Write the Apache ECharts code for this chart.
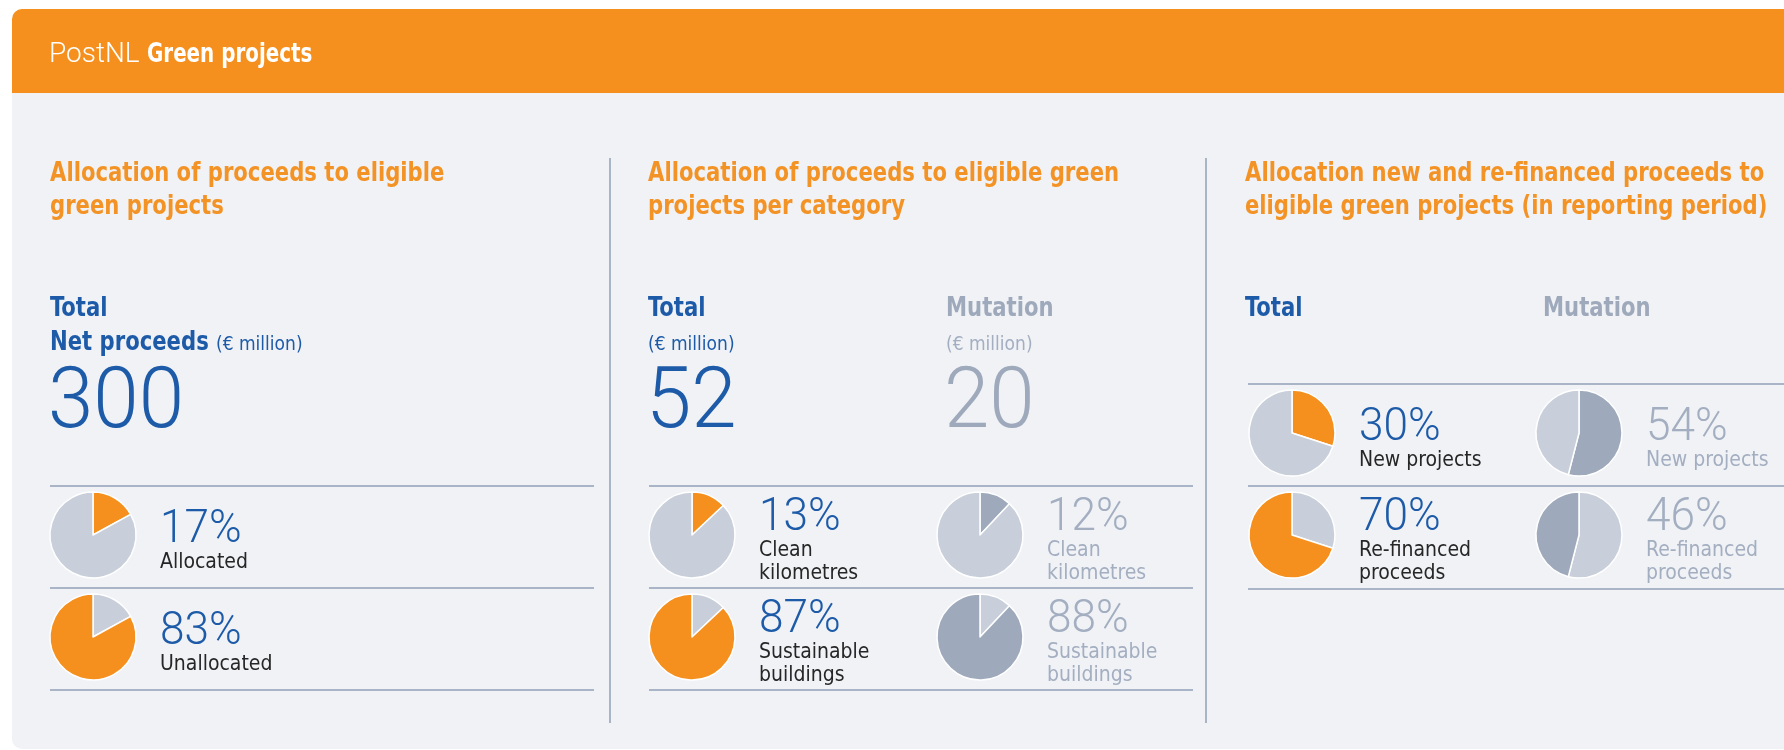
<!DOCTYPE html>
<html>
<head>
<meta charset="utf-8">
<script src="https://cdn.jsdelivr.net/npm/echarts@6/dist/echarts.min.js"></script>
<style>
  html, body { margin: 0; padding: 0; background: #fff; }
  #chart { width: 1784px; height: 750px; }
</style>
</head>
<body>
<div id="chart"></div>
<script>
// values
const netProceeds = 300;
const allocationLabels = ['Allocated', 'Unallocated'];
const allocationShares = [17, 83];

const categoryTotalAmount = 52;
const categoryMutationAmount = 20;
const categoryLabels = ['Clean\nkilometres', 'Sustainable\nbuildings'];
const categoryTotalShares = [13, 87];
const categoryMutationShares = [12, 88];

const financeLabels = ['New projects', 'Re-financed\nproceeds'];
const financeTotalShares = [30, 70];
const financeMutationShares = [54, 46];

const ORANGE = '#f5901e';
const TITLE_ORANGE = '#f39325';
const BLUE = '#1d5ba8';
const DARK = '#262626';
const MUT = '#9ea9bb';
const MUT_TEXT = '#a3aec0';
const LIGHT = '#c8cfda';
const RULE = '#a9b4c7';
const PANEL = '#f0f2f6';

const NARROW = '"Liberation Sans Narrow", "DejaVu Sans Condensed", sans-serif';
const THIN = 'Roboto, "Open Sans", sans-serif';
const SQUEEZE = 0.905; // the report uses a condensed bold face

const chart = echarts.init(document.getElementById('chart'));

const elements = [];
const series = [];

// text placed by its baseline
function txt(x, base, s, size, color, family, weight, sx) {
  elements.push({
    type: 'text', x: x, y: base - size * 0.32 + 2, scaleX: sx || 1, silent: true,
    style: { text: s, fill: color, font: (weight || 'normal') + ' ' + size + 'px ' + family, verticalAlign: 'middle', align: 'left' }
  });
}
function bold(x, base, s, color) { txt(x, base, s, 26, color, NARROW, 'bold', SQUEEZE); }
function rule(x1, y1, x2, y2) {
  elements.push({ type: 'line', silent: true, shape: { x1: x1, y1: y1, x2: x2, y2: y2 }, style: { stroke: RULE, lineWidth: 2 } });
}

// background
elements.push({ type: 'rect', silent: true, shape: { x: 12, y: 93, width: 1772, height: 656, r: [0, 0, 0, 10] }, style: { fill: PANEL } });
elements.push({ type: 'rect', silent: true, shape: { x: 12, y: 9, width: 1772, height: 84, r: [10, 0, 0, 0] }, style: { fill: ORANGE } });
txt(49, 62, 'PostNL', 28, '#fff', THIN, 300);
txt(147, 62, 'Green projects', 26, '#fff', NARROW, 'bold', 0.85);

// column dividers
rule(610, 158, 610, 723);
rule(1206, 158, 1206, 723);

// column titles
bold(50, 181, 'Allocation of proceeds to eligible', TITLE_ORANGE);
bold(50, 214, 'green projects', TITLE_ORANGE);
bold(648, 181, 'Allocation of proceeds to eligible green', TITLE_ORANGE);
bold(648, 214, 'projects per category', TITLE_ORANGE);
bold(1245, 181, 'Allocation new and re-financed proceeds to', TITLE_ORANGE);
bold(1245, 214, 'eligible green projects (in reporting period)', TITLE_ORANGE);

// headline figures
bold(50, 316, 'Total', BLUE);
bold(50, 350, 'Net proceeds', BLUE);
txt(216, 349, '(€ million)', 19, BLUE, NARROW);
txt(48, 431, String(netProceeds), 86, BLUE, THIN, 300, 0.95);

bold(648, 316, 'Total', BLUE);
txt(648, 349, '(€ million)', 19, BLUE, NARROW);
txt(646, 431, String(categoryTotalAmount), 86, BLUE, THIN, 300, 0.95);
bold(946, 316, 'Mutation', MUT);
txt(946, 349, '(€ million)', 19, MUT_TEXT, NARROW);
txt(944, 431, String(categoryMutationAmount), 86, MUT, THIN, 300, 0.95);

bold(1245, 316, 'Total', BLUE);
bold(1543, 316, 'Mutation', MUT);

// row rules
[486, 588, 690].forEach(function (y) { rule(50, y, 594, y); rule(649, y, 1193, y); });
[384, 486, 589].forEach(function (y) { rule(1248, y, 1784, y); });

// pie blocks: each row highlights one share of the same split
const blocks = [
  { cx: 93, tx: 160, tops: [486, 588], shares: allocationShares, labels: allocationLabels, accent: ORANGE, pct: BLUE, lbl: DARK },
  { cx: 692, tx: 759, tops: [486, 588], shares: categoryTotalShares, labels: categoryLabels, accent: ORANGE, pct: BLUE, lbl: DARK },
  { cx: 980, tx: 1047, tops: [486, 588], shares: categoryMutationShares, labels: categoryLabels, accent: MUT, pct: MUT_TEXT, lbl: MUT_TEXT },
  { cx: 1292, tx: 1359, tops: [384, 486], shares: financeTotalShares, labels: financeLabels, accent: ORANGE, pct: BLUE, lbl: DARK },
  { cx: 1579, tx: 1646, tops: [384, 486], shares: financeMutationShares, labels: financeLabels, accent: MUT, pct: MUT_TEXT, lbl: MUT_TEXT }
];

blocks.forEach(function (b) {
  b.tops.forEach(function (top, i) {
    series.push({
      type: 'pie',
      center: [b.cx, top + 49],
      radius: 43,
      startAngle: 90,
      clockwise: true,
      silent: true,
      label: { show: false },
      labelLine: { show: false },
      itemStyle: { borderColor: '#fff', borderWidth: 1.5 },
      data: b.shares.map(function (v, j) {
        return { name: b.labels[j], value: v, itemStyle: { color: j === i ? b.accent : LIGHT } };
      })
    });
    const lines = b.labels[i].split('\n');
    const pctBase = top + (lines.length > 1 ? 45 : 57);
    txt(b.tx, pctBase, b.shares[i] + '%', 46, b.pct, THIN, 300, 0.96);
    lines.forEach(function (l, k) {
      txt(b.tx, pctBase + 24 + k * 23, l, 21, b.lbl, NARROW);
    });
  });
});

const option = {
  animation: false,
  backgroundColor: '#fff',
  graphic: { elements: elements },
  series: series
};
chart.setOption(option);
</script>
</body>
</html>
